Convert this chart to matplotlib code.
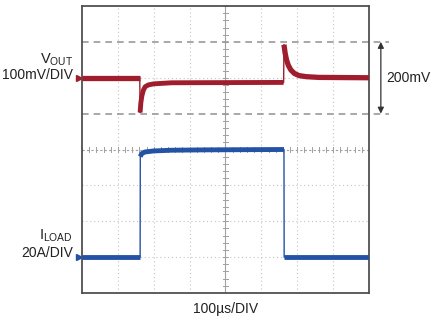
import matplotlib
matplotlib.use("Agg")
import matplotlib.pyplot as plt

plt.rcParams['font.family'] = ['Liberation Sans', 'DejaVu Sans']

# scope traces, x in us, y in divisions (0 = screen centre)
vout_t = [0, 161, 162, 164, 167, 171, 176, 185, 200, 250, 562, 563, 566, 570, 575, 582, 592, 605, 625, 660, 800]
vout_v = [2.0, 2.0, 1.03, 1.3, 1.5, 1.65, 1.75, 1.8, 1.83, 1.86, 1.87, 2.92, 2.7, 2.5, 2.35, 2.22, 2.12, 2.06, 2.03, 2.01, 2.0]

iload_t = [0, 162, 162.5, 166, 175, 200, 250, 350, 563, 563.5, 800]
iload_v = [-3.0, -3.0, -0.2, -0.12, -0.07, -0.04, -0.02, -0.01, 0.0, -3.0, -3.0]

red = '#a01d2e'
blue = '#2453a6'
grid_c = '#c4c4c4'

fig = plt.figure(figsize=(4.35, 3.25), dpi=100)
ax = fig.add_axes([82 / 435, 32 / 325, 287 / 435, 287 / 325])
ax.set_xlim(0, 800)
ax.set_ylim(-4, 4)
ax.set_xticks([])
ax.set_yticks([])
for s in ax.spines.values():
    s.set_color('#505050')
    s.set_linewidth(1.3)

# graticule
for gx in range(100, 800, 100):
    if gx != 400:
        ax.axvline(gx, color=grid_c, lw=0.8, ls=(0, (1, 2.5)), zorder=1)
for gy in [-3, -2, -1, 2]:
    ax.axhline(gy, color=grid_c, lw=0.8, ls=(0, (1, 2.5)), zorder=1)
ax.axvline(400, color='#a0a0a0', lw=0.8, zorder=1)
ax.axhline(0, color='#a0a0a0', lw=0.8, ls=(0, (2, 2)), zorder=1)
for k in range(-20, 21):
    ax.plot([400 - 6, 400 + 6], [k * 0.2, k * 0.2], color='#a0a0a0', lw=0.7, zorder=1)
for k in range(0, 41):
    ax.plot([k * 20, k * 20], [-0.07, 0.07], color='#a0a0a0', lw=0.7, zorder=1)

# 100mV reference lines, run out past the frame
for gy in [1, 3]:
    ax.plot([0, 855], [gy, gy], color='#999999', lw=1.2, ls=(0, (4, 3)), clip_on=False, zorder=2)

# traces: thin edges, thick noisy-looking flats
ax.plot(vout_t, vout_v, color=red, lw=1.0, zorder=3)
ax.plot(vout_t[:2], vout_v[:2], color=red, lw=3.8, solid_capstyle='butt', zorder=3)
ax.plot(vout_t[2:11], vout_v[2:11], color=red, lw=3.5, solid_capstyle='butt', zorder=3)
ax.plot(vout_t[11:], vout_v[11:], color=red, lw=3.8, solid_capstyle='butt', zorder=3)

ax.plot(iload_t, iload_v, color=blue, lw=1.0, zorder=3)
ax.plot(iload_t[:2], iload_v[:2], color=blue, lw=3.5, solid_capstyle='butt', zorder=3)
ax.plot(iload_t[2:9], iload_v[2:9], color=blue, lw=3.5, solid_capstyle='butt', zorder=3)
ax.plot(iload_t[9:], iload_v[9:], color=blue, lw=3.5, solid_capstyle='butt', zorder=3)

# channel markers
ax.plot([-8], [2.0], marker='>', color=red, ms=4, clip_on=False)
ax.plot([-8], [-3.0], marker='>', color=blue, ms=4, clip_on=False)

# 200mV span arrow
ax.annotate('', xy=(833, 3), xytext=(833, 1), annotation_clip=False,
            arrowprops=dict(arrowstyle='<|-|>', color='#333333', lw=0.9,
                            mutation_scale=9, shrinkA=0, shrinkB=0))
ax.text(849, 2.0, '200mV', fontsize=10, va='center', ha='left', color='#222222', clip_on=False)

# labels
ax.text(-25, 2.5, r'V$_{\mathregular{OUT}}$', fontsize=10.5, ha='right', va='center', color='#222222')
ax.text(-25, 2.08, '100mV/DIV', fontsize=10, ha='right', va='center', color='#222222')
ax.text(-25, -2.4, r'I$_{\mathregular{LOAD}}$', fontsize=10.5, ha='right', va='center', color='#222222')
ax.text(-25, -2.88, '20A/DIV', fontsize=10, ha='right', va='center', color='#222222')
ax.text(400, -4.45, '100µs/DIV', fontsize=10, ha='center', va='center', color='#222222')

fig.savefig('out.png', dpi=100)
